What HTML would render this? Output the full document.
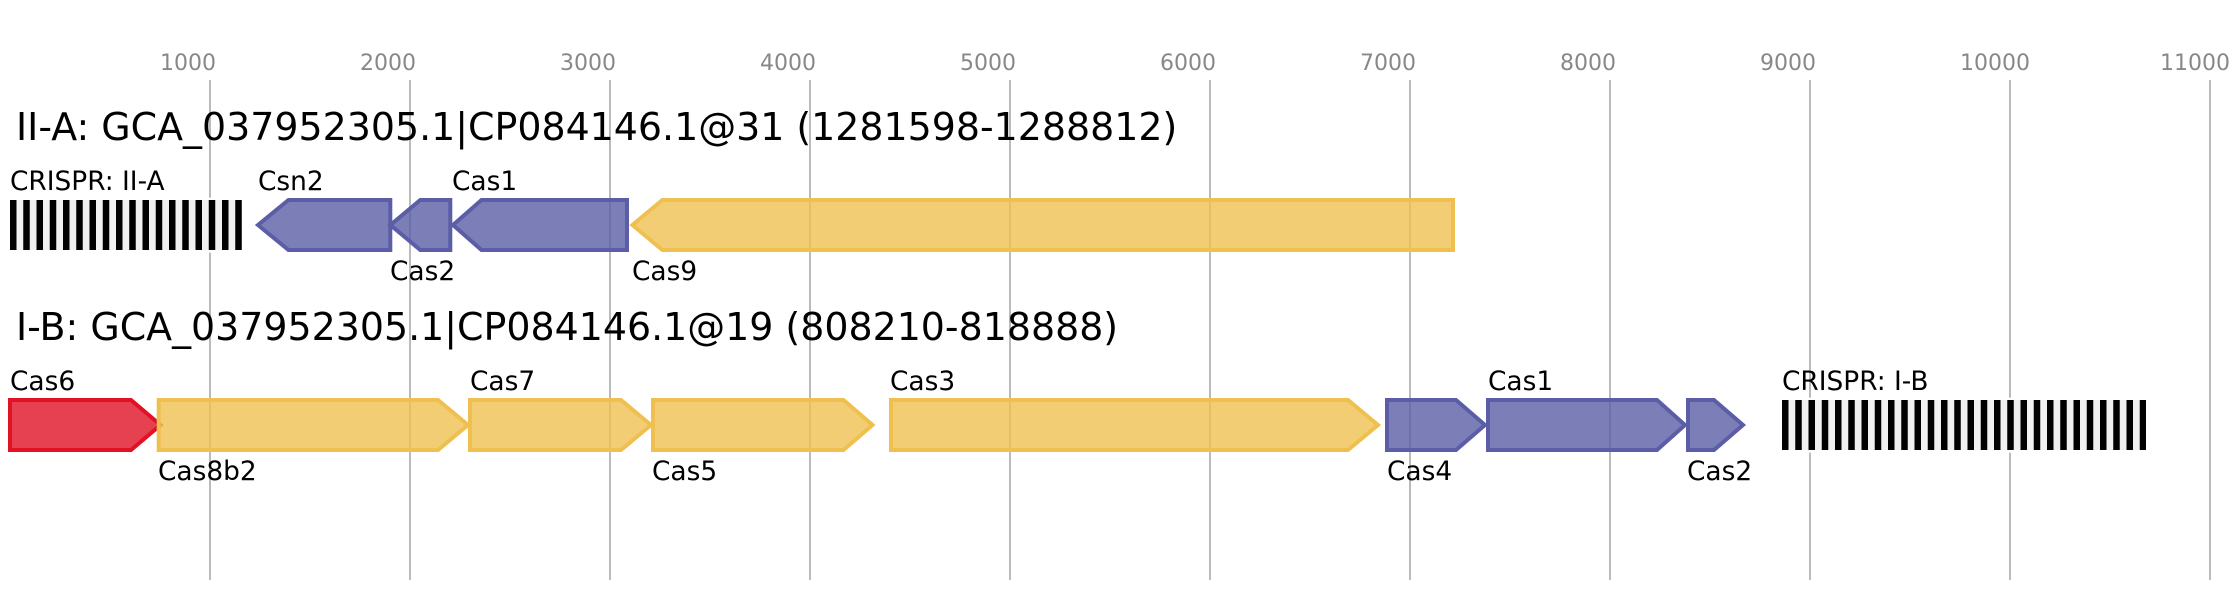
<!DOCTYPE html>
<html>
<head>
<meta charset="utf-8">
<style>
html,body{margin:0;padding:0;background:#fff;width:2236px;height:600px;overflow:hidden}
svg{display:block}
text{font-family:"DejaVu Sans","Liberation Sans",sans-serif}
.t{font-size:22px;fill:#888}
.h{font-size:37.92px;fill:#000}
.l{font-size:26.4px;fill:#000}
.b{stroke:#5B5EA6;fill:#5B5EA6;fill-opacity:.8}
.y{stroke:#EFC050;fill:#EFC050;fill-opacity:.8}
.r{stroke:#E01224;fill:#E01224;fill-opacity:.8}
polygon{stroke-width:4;stroke-opacity:1}
.g{stroke:#bbb;stroke-width:2}
</style>
</head>
<body>
<svg width="2236" height="600" viewBox="0 0 2236 600" xmlns="http://www.w3.org/2000/svg">
<rect width="2236" height="600" fill="#fff"/>
<g>
<line class="g" x1="210" y1="80" x2="210" y2="580"/>
<line class="g" x1="410" y1="80" x2="410" y2="580"/>
<line class="g" x1="610" y1="80" x2="610" y2="580"/>
<line class="g" x1="810" y1="80" x2="810" y2="580"/>
<line class="g" x1="1010" y1="80" x2="1010" y2="580"/>
<line class="g" x1="1210" y1="80" x2="1210" y2="580"/>
<line class="g" x1="1410" y1="80" x2="1410" y2="580"/>
<line class="g" x1="1610" y1="80" x2="1610" y2="580"/>
<line class="g" x1="1810" y1="80" x2="1810" y2="580"/>
<line class="g" x1="2010" y1="80" x2="2010" y2="580"/>
<line class="g" x1="2210" y1="80" x2="2210" y2="580"/>
</g>
<g class="t">
<text class="t" x="160" y="70">1000</text>
<text class="t" x="360" y="70">2000</text>
<text class="t" x="560" y="70">3000</text>
<text class="t" x="760" y="70">4000</text>
<text class="t" x="960" y="70">5000</text>
<text class="t" x="1160" y="70">6000</text>
<text class="t" x="1360" y="70">7000</text>
<text class="t" x="1560" y="70">8000</text>
<text class="t" x="1760" y="70">9000</text>
<text class="t" x="1960" y="70">10000</text>
<text class="t" x="2160" y="70">11000</text>
</g>
<text class="h" x="16" y="140">II-A: GCA_037952305.1|CP084146.1@31 (1281598-1288812)</text>
<text class="l" x="10" y="190">CRISPR: II-A</text>
<rect x="8" y="197.7" width="236" height="55" fill="#fff"/>
<rect x="10" y="200" width="232" height="50" fill="#f0f0f0"/>
<line x1="10" y1="225" x2="242" y2="225" stroke="#000" stroke-width="50" stroke-dasharray="6.5 6.75"/>
<polygon class="b" points="390.3,200 288.5,200 258,225 288.5,250 390.3,250"/>
<text class="l" x="258" y="190">Csn2</text>
<polygon class="b" points="450.3,200 420.3,200 390.4,225 420.3,250 450.3,250"/>
<text class="l" x="390" y="280">Cas2</text>
<polygon class="b" points="627,200 481.5,200 453,225 481.5,250 627,250"/>
<text class="l" x="452" y="190">Cas1</text>
<polygon class="y" points="1453,200 662.4,200 632.4,225 662.4,250 1453,250"/>
<text class="l" x="632" y="280">Cas9</text>
<text class="h" x="16" y="340">I-B: GCA_037952305.1|CP084146.1@19 (808210-818888)</text>
<polygon class="r" points="10,400 131,400 160.5,425 131,450 10,450"/>
<text class="l" x="10" y="390">Cas6</text>
<polygon class="y" points="158.7,400 438,400 468,425 438,450 158.7,450"/>
<text class="l" x="158" y="480">Cas8b2</text>
<polygon class="y" points="470,400 621,400 651,425 621,450 470,450"/>
<text class="l" x="470" y="390">Cas7</text>
<polygon class="y" points="653,400 843.5,400 872.5,425 843.5,450 653,450"/>
<text class="l" x="652" y="480">Cas5</text>
<polygon class="y" points="891,400 1348,400 1378,425 1348,450 891,450"/>
<text class="l" x="890" y="390">Cas3</text>
<polygon class="b" points="1387,400 1456,400 1485,425 1456,450 1387,450"/>
<text class="l" x="1387" y="480">Cas4</text>
<polygon class="b" points="1488,400 1657,400 1685,425 1657,450 1488,450"/>
<text class="l" x="1488" y="390">Cas1</text>
<polygon class="b" points="1688,400 1714,400 1743,425 1714,450 1688,450"/>
<text class="l" x="1687" y="480">Cas2</text>
<text class="l" x="1782" y="390">CRISPR: I-B</text>
<rect x="1780" y="397.7" width="368" height="55" fill="#fff"/>
<rect x="1782" y="400" width="364" height="50" fill="#f0f0f0"/>
<line x1="1782" y1="425" x2="2146" y2="425" stroke="#000" stroke-width="50" stroke-dasharray="6.5 6.75"/>
</svg>
</body>
</html>
